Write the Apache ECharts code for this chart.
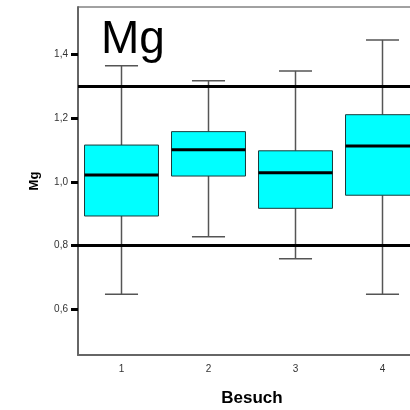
<!DOCTYPE html>
<html>
<head>
<meta charset="utf-8">
<script src="https://cdn.jsdelivr.net/npm/echarts@6/dist/echarts.min.js"></script>
<style>html,body{margin:0;padding:0;background:#fff;}#c{width:410px;height:410px;}</style>
</head>
<body>
<div id="c"></div>
<script>
const categories = ['1', '2', '3', '4'];
const lowerWhisker = [0.648, 0.828, 0.759, 0.648];
const q1Values = [0.893, 1.018, 0.917, 0.958];
const medianValues = [1.021, 1.100, 1.028, 1.112];
const q3Values = [1.115, 1.157, 1.097, 1.210];
const upperWhisker = [1.363, 1.316, 1.347, 1.444];
const refLines = [1.3, 0.8];
const yTicks = [0.6, 0.8, 1.0, 1.2, 1.4];

const boxData = categories.map((c, i) => [i, lowerWhisker[i], q1Values[i], medianValues[i], q3Values[i], upperWhisker[i]]);

const chart = echarts.init(document.getElementById('c'), null, {renderer: 'canvas'});
const fontFam = '"Liberation Sans", Arial, sans-serif';
chart.setOption({
  animation: false,
  backgroundColor: '#fff',
  title: {
    text: 'Mg', left: 96, top: 12,
    textStyle: {fontSize: 46, fontWeight: 'normal', color: '#000', fontFamily: fontFam}
  },
  grid: {left: 78, top: 7, width: 348, bottom: 55, show: true, borderColor: '#444', borderWidth: 1,
    containLabel: false, outerBoundsMode: 'none'},
  xAxis: {
    type: 'category', data: categories, boundaryGap: true,
    name: 'Besuch', nameLocation: 'middle', nameGap: 35,
    nameTextStyle: {fontSize: 17, fontWeight: 'bold', color: '#000', fontFamily: fontFam},
    axisLine: {lineStyle: {color: '#666', width: 2}},
    axisTick: {alignWithLabel: true, length: 7, lineStyle: {color: '#000', width: 3}},
    axisLabel: {fontSize: 10, color: '#333', margin: 9, fontFamily: fontFam},
    splitLine: {show: false}
  },
  yAxis: {
    type: 'value', min: 0.458, max: 1.547,
    name: 'Mg', nameLocation: 'middle', nameGap: 37, nameRotate: 90,
    nameTextStyle: {fontSize: 13, fontWeight: 'bold', color: '#000', fontFamily: fontFam},
    axisLine: {show: true, lineStyle: {color: '#666', width: 2}},
    axisTick: {show: true, length: 7, lineStyle: {color: '#000', width: 3}, customValues: yTicks},
    axisLabel: {fontSize: 10, color: '#333', margin: 10, fontFamily: fontFam, customValues: yTicks,
      formatter: v => v.toFixed(1).replace('.', ',')},
    splitLine: {show: false}
  },
  series: [{
    type: 'custom',
    data: boxData,
    encode: {x: 0, y: [1, 2, 3, 4, 5]},
    renderItem: function (params, api) {
      const x = api.value(0);
      const pLow = api.coord([x, api.value(1)]);
      const pQ1 = api.coord([x, api.value(2)]);
      const pMed = api.coord([x, api.value(3)]);
      const pQ3 = api.coord([x, api.value(4)]);
      const pHigh = api.coord([x, api.value(5)]);
      const band = api.size([1, 0])[0];
      const bw = band * 0.85, cw = band * 0.38;
      const cx = pMed[0];
      const wStyle = {stroke: '#555', lineWidth: 1.5};
      return {
        type: 'group',
        children: [
          {type: 'line', shape: {x1: cx, y1: pHigh[1], x2: cx, y2: pQ3[1]}, style: wStyle},
          {type: 'line', shape: {x1: cx, y1: pQ1[1], x2: cx, y2: pLow[1]}, style: wStyle},
          {type: 'line', shape: {x1: cx - cw / 2, y1: pHigh[1], x2: cx + cw / 2, y2: pHigh[1]}, style: wStyle},
          {type: 'line', shape: {x1: cx - cw / 2, y1: pLow[1], x2: cx + cw / 2, y2: pLow[1]}, style: wStyle},
          {type: 'rect', shape: {x: cx - bw / 2, y: pQ3[1], width: bw, height: pQ1[1] - pQ3[1]},
            style: {fill: '#00FFFF', stroke: '#1a3a3a', lineWidth: 1}},
          {type: 'line', shape: {x1: cx - bw / 2, y1: pMed[1], x2: cx + bw / 2, y2: pMed[1]},
            style: {stroke: '#000', lineWidth: 3}}
        ]
      };
    },
    markLine: {
      silent: true, symbol: 'none', label: {show: false},
      lineStyle: {color: '#000', width: 3, type: 'solid'},
      data: refLines.map(v => ({yAxis: v}))
    },
    z: 2
  }]
});
</script>
</body>
</html>
